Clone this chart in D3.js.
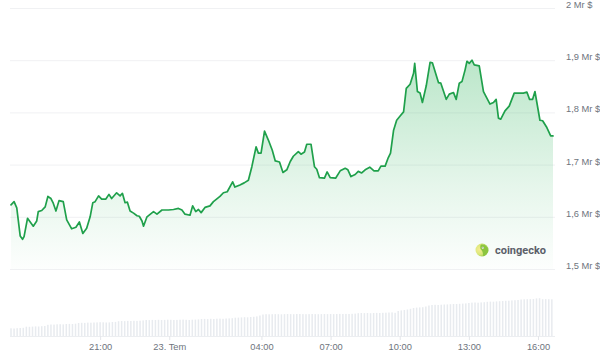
<!DOCTYPE html>
<html>
<head>
<meta charset="utf-8">
<script src="https://cdn.jsdelivr.net/npm/d3@7"></script>
<style>
  html, body { margin: 0; padding: 0; background: #fff; }
  svg { display: block; }
</style>
</head>
<body>
<script>
const SvgWidth = 600, SvgHeight = 352;

// price series (time of day, Mr $)
var times = ["17:08","17:16","17:23","17:32","17:38","17:42","17:51","18:06","18:15","18:19",
  "18:28","18:37","18:44","18:52","18:58","19:05","19:13","19:24","19:33","19:46",
  "19:57","20:06","20:15","20:25","20:34","20:41","20:47","20:56","21:04","21:15",
  "21:23","21:30","21:43","21:52","21:58","22:05","22:11","22:18","22:27","22:36",
  "22:42","22:49","22:53","23:02","23:19","23:28","23:41","23:58","00:11","00:24",
  "00:33","00:41","00:54","01:01","01:09","01:16","01:23","01:33","01:46","01:55",
  "02:12","02:21","02:31","02:45","02:51","03:04","03:15","03:26","03:35","03:46",
  "03:52","03:59","04:08","04:18","04:28","04:36","04:47","04:56","05:06","05:15",
  "05:23","05:36","05:43","05:52","05:58","06:09","06:18","06:24","06:31","06:44",
  "06:51","06:59","07:13","07:25","07:38","07:45","07:53","08:04","08:12","08:21",
  "08:30","08:42","08:53","09:04","09:11","09:22","09:30","09:36","09:44","09:52",
  "10:01","10:10","10:17","10:27","10:36","10:39","10:46","10:53","10:59","11:09",
  "11:19","11:25","11:41","11:47","12:01","12:09","12:20","12:27","12:35","12:42",
  "12:50","12:55","13:01","13:08","13:14","13:27","13:38","13:55","14:04","14:11",
  "14:17","14:23","14:34","14:45","14:58","15:22","15:31","15:38","15:46","15:52",
  "16:05","16:12","16:23","16:33","16:39"];
var prices = [1.623,1.629,1.617,1.563,1.557,1.562,1.597,1.582,1.592,1.610,
  1.612,1.619,1.639,1.635,1.626,1.611,1.631,1.629,1.594,1.577,
  1.580,1.590,1.568,1.578,1.600,1.627,1.629,1.640,1.634,1.634,
  1.643,1.635,1.646,1.640,1.645,1.627,1.628,1.611,1.607,1.602,
  1.601,1.592,1.582,1.600,1.610,1.605,1.613,1.613,1.614,1.616,
  1.613,1.605,1.603,1.621,1.610,1.614,1.608,1.618,1.621,1.629,
  1.639,1.646,1.648,1.667,1.657,1.661,1.665,1.670,1.696,1.734,
  1.722,1.722,1.764,1.747,1.728,1.707,1.705,1.685,1.690,1.706,
  1.716,1.725,1.720,1.724,1.739,1.739,1.696,1.691,1.675,1.674,
  1.686,1.675,1.674,1.688,1.693,1.690,1.677,1.681,1.687,1.684,
  1.690,1.695,1.688,1.688,1.697,1.697,1.713,1.722,1.766,1.785,
  1.793,1.801,1.846,1.854,1.875,1.894,1.840,1.837,1.819,1.851,
  1.896,1.895,1.857,1.856,1.825,1.835,1.838,1.825,1.856,1.859,
  1.881,1.898,1.894,1.900,1.891,1.889,1.840,1.816,1.819,1.825,
  1.789,1.787,1.803,1.812,1.837,1.837,1.839,1.825,1.825,1.840,
  1.785,1.784,1.771,1.755,1.755];

// volume bars, one every 8 minutes from the first price time (relative units)
var volStep = 8;
var volumes = [7.7,7.5,7.8,8.0,8.2,9.3,9.2,9.4,9.6,9.5,
  9.8,10.0,11.2,11.5,11.4,11.7,11.8,11.6,12.0,12.1,
  12.0,12.3,13.0,13.2,13.1,13.4,13.3,13.5,13.6,13.8,
  13.7,13.5,13.6,14.0,14.1,14.8,15.0,14.9,15.1,15.0,
  15.2,15.1,15.3,15.6,16.0,15.9,16.1,16.0,16.2,16.0,
  16.1,16.3,16.2,16.0,16.1,16.3,16.4,16.2,16.0,16.3,
  16.4,16.6,17.0,17.1,16.9,17.2,17.0,17.3,17.4,17.2,
  17.5,17.6,17.8,18.3,18.4,18.6,18.8,18.7,19.0,19.2,
  19.6,20.5,21.5,21.8,21.7,21.8,21.9,21.8,21.7,21.9,
  22.0,21.9,21.8,22.0,22.0,21.9,21.8,21.9,22.0,21.9,
  21.8,21.9,22.0,21.9,22.0,21.9,22.0,22.1,22.0,22.1,
  22.0,22.2,22.4,22.8,23.0,22.9,23.0,22.8,23.0,23.1,
  23.0,23.2,23.3,23.5,23.6,23.2,25.0,25.6,26.0,26.5,
  27.2,28.0,28.4,28.6,28.8,29.5,30.5,31.0,31.2,31.0,
  31.3,31.5,31.6,31.8,32.0,32.0,32.2,32.4,32.6,33.0,
  33.4,33.5,33.3,33.6,33.8,34.2,34.4,34.3,34.6,34.8,
  35.0,35.2,35.3,35.6,35.8,36.0,36.5,36.7,36.8,36.9,
  37.0,37.6,37.8,36.8,36.9,36.8,36.7];

var yTicks = [1.5, 1.6, 1.7, 1.8, 1.9, 2.0];
var yTickLabels = ["1,5 Mr $", "1,6 Mr $", "1,7 Mr $", "1,8 Mr $", "1,9 Mr $", "2 Mr $"];
var xTickTimes = ["21:00", "00:00", "04:00", "07:00", "10:00", "13:00", "16:00"];
var xTickLabels = ["21:00", "23. Tem", "04:00", "07:00", "10:00", "13:00", "16:00"];

// times from 17:00 on belong to 22 July, earlier ones to 23 July
var parseHM = d3.timeParse("%Y-%m-%d %H:%M");
function toDate(hm) {
  var h = +hm.split(":")[0];
  return parseHM((h >= 17 ? "2024-07-22 " : "2024-07-23 ") + hm);
}

var data = times.map(function(t, i) { return {date: toDate(t), value: prices[i]}; });
var t0 = data[0].date;
var volData = volumes.map(function(v, i) {
  return {date: new Date(+t0 + i * volStep * 60000), value: v};
});

var svg = d3.select('body')
  .append('svg')
  .attr('width', SvgWidth)
  .attr('height', SvgHeight)
  .style('background-color', 'white')
  .style('font-family', 'Roboto, "Liberation Sans", sans-serif');

var x = d3.scaleTime().domain(d3.extent(data, function(d) { return d.date; })).range([11, 553]);
var y = d3.scaleLinear().domain([1.5, 2.0]).range([269, 8]);
var vy = d3.scaleLinear().domain([0, 56]).range([336, 280]);

// gradient for the area
var defs = svg.append('defs');
var grad = defs.append('linearGradient')
  .attr('id', 'areaFill')
  .attr('gradientUnits', 'userSpaceOnUse')
  .attr('x1', 0).attr('x2', 0)
  .attr('y1', y(1.92)).attr('y2', y(1.5) + 8);
grad.append('stop').attr('offset', 0).attr('stop-color', '#2db35a').attr('stop-opacity', 0.34);
grad.append('stop').attr('offset', 0.6).attr('stop-color', '#2db35a').attr('stop-opacity', 0.12);
grad.append('stop').attr('offset', 1).attr('stop-color', '#2db35a').attr('stop-opacity', 0.0);

var logoGrad = defs.append('radialGradient')
  .attr('id', 'logoFill').attr('cx', '30%').attr('cy', '45%').attr('r', '70%');
logoGrad.append('stop').attr('offset', 0).attr('stop-color', '#f6ec8f');
logoGrad.append('stop').attr('offset', 0.55).attr('stop-color', '#d9e77a');
logoGrad.append('stop').attr('offset', 1).attr('stop-color', '#8cc63f');

// gridlines
var yAxis = d3.axisRight(y)
  .tickValues(yTicks)
  .tickSize(-(555 - 10))
  .tickFormat(function(d, i) { return yTickLabels[i]; });
svg.append('g')
  .attr('class', 'axis axis--y')
  .attr('transform', 'translate(555,0)')
  .call(yAxis)
  .call(function(g) {
    g.select('.domain').remove();
    g.selectAll('.tick line').attr('stroke', '#f0f1f3').attr('stroke-width', 1);
    g.selectAll('.tick text')
      .attr('x', 11)
      .attr('dy', '-0.05em')
      .attr('fill', '#6e747d')
      .style('font-size', '9.3px');
  });

// volume bars
svg.append('g')
  .selectAll('rect')
  .data(volData)
  .enter().append('rect')
    .attr('x', function(d) { return x(d.date) - 0.75; })
    .attr('y', function(d) { return vy(d.value); })
    .attr('width', 1.5)
    .attr('height', function(d) { return vy(0) - vy(d.value); })
    .attr('fill', '#e8ebef');

// x axis
var xAxis = d3.axisBottom(x)
  .tickValues(xTickTimes.map(toDate))
  .tickSize(4)
  .tickFormat(function(d, i) { return xTickLabels[i]; });
svg.append('g')
  .attr('class', 'axis axis--x')
  .attr('transform', 'translate(0,336)')
  .call(xAxis)
  .call(function(g) {
    g.select('.domain').attr('d', 'M10,0.5H555').attr('stroke', '#eceef1');
    g.selectAll('.tick line').attr('stroke', '#e4e6ea');
    g.selectAll('.tick text')
      .attr('y', 7)
      .attr('fill', '#6e747d')
      .style('font-size', '9.3px');
  });

// price area + line
var area = d3.area()
  .x(function(d) { return x(d.date); })
  .y0(y(1.5))
  .y1(function(d) { return y(d.value); });
var line = d3.line()
  .x(function(d) { return x(d.date); })
  .y(function(d) { return y(d.value); });

svg.append('path')
  .datum(data)
  .attr('fill', 'url(#areaFill)')
  .attr('d', area);
svg.append('path')
  .datum(data)
  .attr('fill', 'none')
  .attr('stroke', '#1fa04b')
  .attr('stroke-width', 1.7)
  .attr('stroke-linejoin', 'round')
  .attr('stroke-linecap', 'round')
  .attr('d', line);

// coingecko watermark
var logo = svg.append('g').attr('transform', 'translate(482,250)');
logo.append('circle').attr('r', 6.5).attr('fill', 'url(#logoFill)');
logo.append('path')
  .attr('d', 'M-1,-5.5 C3,-6 6,-3 6.3,1 C5,4 3,6 1,6.3 C1.5,3 0,0 -1.5,-1 C-2,-3 -1.8,-4.5 -1,-5.5 Z')
  .attr('fill', '#8bc53f');
logo.append('circle').attr('cx', 0.8).attr('cy', -2.2).attr('r', 1.1).attr('fill', '#fff');
logo.append('circle').attr('cx', 0.9).attr('cy', -2.2).attr('r', 0.55).attr('fill', '#4a4a4a');
svg.append('text')
  .attr('x', 495)
  .attr('y', 254)
  .attr('fill', '#5b6069')
  .style('font-size', '11px')
  .style('font-weight', 'bold')
  .text('coingecko');
</script>
</body>
</html>
